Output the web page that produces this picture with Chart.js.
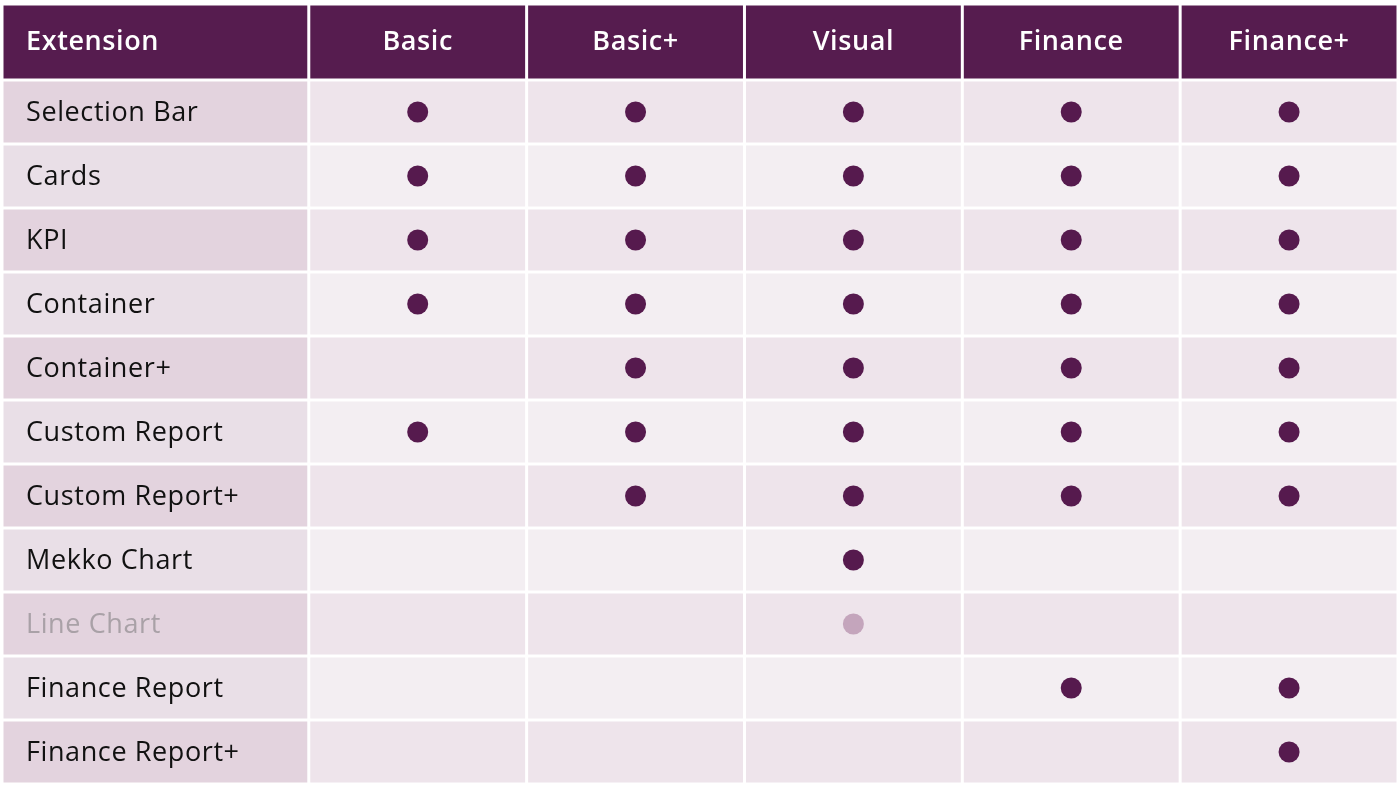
<!DOCTYPE html>
<html>
<head>
<meta charset="utf-8">
<script src="https://cdn.jsdelivr.net/npm/chart.js@4/dist/chart.umd.min.js"></script>
<style>
  html, body { margin: 0; padding: 0; background: #ffffff; }
  #wrap { width: 1400px; height: 788px; }
</style>
</head>
<body>
<div id="wrap"><canvas id="grid"></canvas></div>
<script>
// table contents
const extensions = ['Selection Bar', 'Cards', 'KPI', 'Container', 'Container+', 'Custom Report',
  'Custom Report+', 'Mekko Chart', 'Line Chart', 'Finance Report', 'Finance Report+'];
const tiers = ['Basic', 'Basic+', 'Visual', 'Finance', 'Finance+'];
// 1 = included, 2 = included (greyed out), 0 = not included
const basic       = [1, 1, 1, 1, 0, 1, 0, 0, 0, 0, 0];
const basicPlus   = [1, 1, 1, 1, 1, 1, 1, 0, 0, 0, 0];
const visual      = [1, 1, 1, 1, 1, 1, 1, 1, 2, 0, 0];
const finance     = [1, 1, 1, 1, 1, 1, 1, 0, 0, 1, 0];
const financePlus = [1, 1, 1, 1, 1, 1, 1, 0, 0, 1, 1];
const fadedRows = ['Line Chart'];

const matrix = [basic, basicPlus, visual, finance, financePlus];
const points = [], faded = [];
matrix.forEach((col, x) => col.forEach((v, y) => {
  if (v === 1) points.push({x, y});
  if (v === 2) faded.push({x, y});
}));

const firstColUnits = 307 / 218;   // first column is wider than tier columns
const headerUnits = 76 / 64;       // header row is taller than body rows

const tablePlugin = {
  id: 'table',
  beforeDatasetsDraw(chart) {
    const {ctx, scales: {x, y}} = chart;
    const gap = 1.5;
    const colEdges = [x.min];
    for (let i = 0; i <= tiers.length; i++) colEdges.push(i - 0.5);
    const rowEdges = [y.min];
    for (let j = 0; j <= extensions.length; j++) rowEdges.push(j - 0.5);
    ctx.save();
    for (let r = 0; r < rowEdges.length - 1; r++) {
      const y0 = y.getPixelForValue(rowEdges[r]) + gap;
      const y1 = y.getPixelForValue(rowEdges[r + 1]) - gap;
      for (let c = 0; c < colEdges.length - 1; c++) {
        const x0 = x.getPixelForValue(colEdges[c]) + gap;
        const x1 = x.getPixelForValue(colEdges[c + 1]) - gap;
        let fill;
        if (r === 0) fill = '#561c4f';
        else if (c === 0) fill = r % 2 ? '#e3d3de' : '#e9dfe7';
        else fill = r % 2 ? '#eee4eb' : '#f3eef2';
        ctx.fillStyle = fill;
        ctx.fillRect(x0, y0, x1 - x0, y1 - y0);
      }
    }
    ctx.textBaseline = 'middle';
    ctx.letterSpacing = '0.6px';
    ctx.font = '600 27px "Open Sans", "Noto Sans", sans-serif';
    ctx.fillStyle = '#ffffff';
    const hy = y.getPixelForValue(-0.5 - headerUnits / 2);
    ctx.textAlign = 'left';
    ctx.fillText('Extension', 26, hy);
    ctx.textAlign = 'center';
    tiers.forEach((t, i) => ctx.fillText(t, x.getPixelForValue(i), hy));
    ctx.textAlign = 'left';
    ctx.font = '27px "Open Sans", "Noto Sans", sans-serif';
    extensions.forEach((e, j) => {
      ctx.fillStyle = fadedRows.includes(e) ? '#a9a1a7' : '#111111';
      ctx.fillText(e, 26, y.getPixelForValue(j) + 1);
    });
    ctx.restore();
  }
};

new Chart(document.getElementById('grid'), {
  type: 'scatter',
  data: {
    datasets: [
      {data: points, pointRadius: 10.5, pointBackgroundColor: '#561a4e', pointBorderWidth: 0},
      {data: faded, pointRadius: 10.5, pointBackgroundColor: '#c4a5bc', pointBorderWidth: 0}
    ]
  },
  options: {
    responsive: true,
    maintainAspectRatio: false,
    animation: false,
    devicePixelRatio: 1,
    layout: {autoPadding: false, padding: {left: 2, right: 2, top: 4, bottom: 4}},
    plugins: {legend: {display: false}, tooltip: {enabled: false}},
    scales: {
      x: {type: 'linear', display: false, min: -0.5 - firstColUnits, max: tiers.length - 0.5},
      y: {type: 'linear', display: false, reverse: true, min: -0.5 - headerUnits, max: extensions.length - 0.5}
    }
  },
  plugins: [tablePlugin]
});
</script>
</body>
</html>
